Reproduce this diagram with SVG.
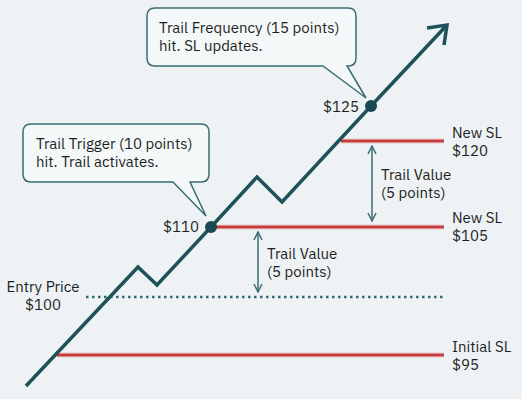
<svg xmlns="http://www.w3.org/2000/svg" width="522" height="399" viewBox="0 0 522 399">
<style>
text{font-family:"IBM Plex Sans","Noto Sans","Liberation Sans",sans-serif;font-size:15px;fill:#1c1f22}
.sl{stroke:#c43c3e;stroke-width:2.5;fill:none}
.slh{stroke:#e8a7a8;stroke-width:4.5;fill:none}
.price{stroke:#1d5258;stroke-width:3.5;fill:none;stroke-linejoin:miter;stroke-linecap:butt}
.box{fill:#f4f8f9;stroke:#3a6d72;stroke-width:1.5}
.dim{stroke:#3a6d72;stroke-width:1.5;fill:none}
.dot{fill:#174a52}
</style>
<defs>
<marker id="ah" viewBox="0 0 10 10" refX="9" refY="5" markerWidth="10" markerHeight="10" markerUnits="userSpaceOnUse" orient="auto-start-reverse">
<path d="M1,1 L9,5 L1,9" fill="none" stroke="#3a6d72" stroke-width="1.5"/>
</marker>
</defs>
<rect width="522" height="399" fill="#eef2f5"/>
<g id="connectors">
<g id="initial-sl-line"><line class="slh" x1="57" y1="355" x2="444" y2="355"/><line class="sl" x1="57" y1="355" x2="444" y2="355"/></g>
<g id="sl105-line"><line class="slh" x1="211" y1="227" x2="444" y2="227"/><line class="sl" x1="211" y1="227" x2="444" y2="227"/></g>
<g id="sl120-line"><line class="slh" x1="341" y1="141" x2="444" y2="141"/><line class="sl" x1="341" y1="141" x2="444" y2="141"/></g>
<line id="entry-line" x1="86" y1="297" x2="444" y2="297" stroke="#2d6b70" stroke-width="2.5" stroke-dasharray="2.5,3.5"/>
<line id="dim1" class="dim" x1="258" y1="232" x2="258" y2="292" marker-start="url(#ah)" marker-end="url(#ah)"/>
<line id="dim2" class="dim" x1="372" y1="146" x2="372" y2="221" marker-start="url(#ah)" marker-end="url(#ah)"/>
<polyline id="price" class="price" points="26,386 138,267 157,285 211,227 257,177 282,202 371,106 447,25"/>
<polyline class="price" points="427,28 447,25 444,45"/>
</g>
<g id="callout-trigger">
<path class="box" d="M31,124 H201 Q209,124 209,132 V174 Q209,182 201,182 H190 L206,216 L173,182 H31 Q23,182 23,174 V132 Q23,124 31,124 Z"/>
<text x="36" y="149">Trail Trigger (10 points)</text>
<text x="36" y="167">hit. Trail activates.</text>
</g>
<g id="callout-frequency">
<path class="box" d="M155,8 H348 Q356,8 356,16 V58 Q356,66 348,66 H347 L366,98 L323,66 H155 Q147,66 147,58 V16 Q147,8 155,8 Z"/>
<text x="159" y="33">Trail Frequency (15 points)</text>
<text x="159" y="51">hit. SL updates.</text>
</g>
<g id="point-110"><circle class="dot" cx="211" cy="227" r="6"/><text x="199" y="232" text-anchor="end">$110</text></g>
<g id="point-125"><circle class="dot" cx="371" cy="106" r="6"/><text x="359" y="112" text-anchor="end">$125</text></g>
<g id="label-entry"><text x="43" y="292" text-anchor="middle">Entry Price</text><text x="43" y="310" text-anchor="middle">$100</text></g>
<g id="label-initial"><text x="452" y="352">Initial SL</text><text x="452" y="370">$95</text></g>
<g id="label-sl105"><text x="452" y="223">New SL</text><text x="452" y="241">$105</text></g>
<g id="label-sl120"><text x="452" y="138">New SL</text><text x="452" y="156">$120</text></g>
<g id="label-tv1"><text x="267" y="259">Trail Value</text><text x="267" y="277">(5 points)</text></g>
<g id="label-tv2"><text x="381" y="180">Trail Value</text><text x="381" y="198">(5 points)</text></g>
</svg>
